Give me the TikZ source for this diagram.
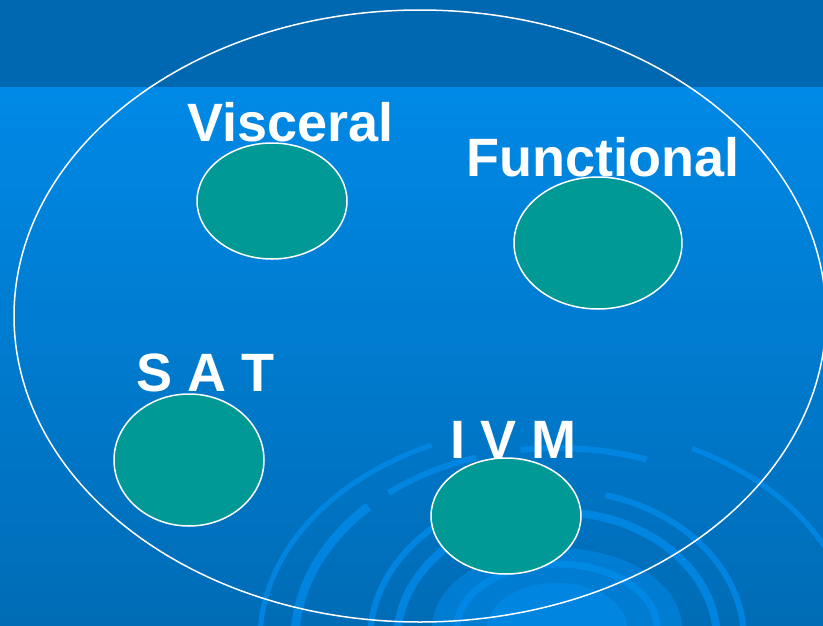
\documentclass[tikz,border=0pt]{standalone}
\usepackage{fontspec}
\setmainfont{Liberation Sans}
\usetikzlibrary{shapes.geometric}
\definecolor{bandblue}{RGB}{0,104,176}
\definecolor{topblue}{RGB}{0,137,230}
\definecolor{botblue}{RGB}{0,108,182}
\definecolor{ringblue}{RGB}{0,140,236}
\definecolor{teal}{RGB}{0,153,150}
\tikzset{
  greenell/.style={ellipse, draw=white, line width=1.5pt, fill=teal, inner sep=0pt},
  lbl/.style={text=white, font=\fontsize{54}{54}\selectfont\bfseries, inner sep=0pt, anchor=base west},
  ring/.style={draw=ringblue, draw opacity=0.75, line cap=butt},
}
\begin{document}
\begin{tikzpicture}[x=1pt,y=-1pt]
\useasboundingbox (0,0) rectangle (823,625);
\clip (0,0) rectangle (823,625);
\shade[top color=topblue, bottom color=botblue] (0,87) rectangle (823,625);
\fill[bandblue] (0,0) rectangle (823,87);
% decorative rings
\coordinate (C) at (557,640);
\draw[ring, line width=5pt] (C) ++(180:297 and 215) arc[start angle=180, end angle=245, x radius=297, y radius=215];
\draw[ring, line width=5pt] (C) ++(297:297 and 215) arc[start angle=297, end angle=360, x radius=297, y radius=215];
\draw[ring, line width=9pt] (C) ++(180:262 and 192) arc[start angle=180, end angle=224, x radius=262, y radius=192];
\draw[ring, line width=6pt] (C) ++(230:262 and 192) arc[start angle=230, end angle=252, x radius=262, y radius=192];
\draw[ring, line width=6pt] (C) ++(262:262 and 192) arc[start angle=262, end angle=290, x radius=262, y radius=192];
\draw[ring, line width=6pt] (C) ++(180:187 and 150) arc[start angle=180, end angle=255, x radius=187, y radius=150];
\draw[ring, line width=6pt] (C) ++(285:187 and 150) arc[start angle=285, end angle=360, x radius=187, y radius=150];
\draw[ring, line width=8pt] (C) ++(180:160 and 128) arc[start angle=180, end angle=360, x radius=160, y radius=128];
\fill[ringblue, opacity=0.5] (557,628) ellipse[x radius=125, y radius=80];
\draw[ring, line width=7pt] (557,628) ellipse[x radius=100, y radius=64];
\fill[ringblue, opacity=0.6] (557,628) ellipse[x radius=70, y radius=45];
% big outline
\node[ellipse, draw=white, line width=1.5pt, minimum width=812pt, minimum height=612pt, inner sep=0pt] (outer) at (420,316) {};
% green ellipses
\node[greenell, minimum width=150pt, minimum height=116pt] (visc) at (272,201) {};
\node[greenell, minimum width=168pt, minimum height=132pt] (func) at (598,243) {};
\node[greenell, minimum width=150pt, minimum height=132pt] (sat) at (189,460) {};
\node[greenell, minimum width=150pt, minimum height=116pt] (ivm) at (506,516) {};
% labels
\node[lbl] (tvisc) at (187,141) {Visceral};
\node[lbl] (tfunc) at (466,176) {Functional};
\node[lbl] (tsat) at (136,391) {S A T};
\node[lbl] (tivm) at (450,458) {I V M};
\end{tikzpicture}
\end{document}
